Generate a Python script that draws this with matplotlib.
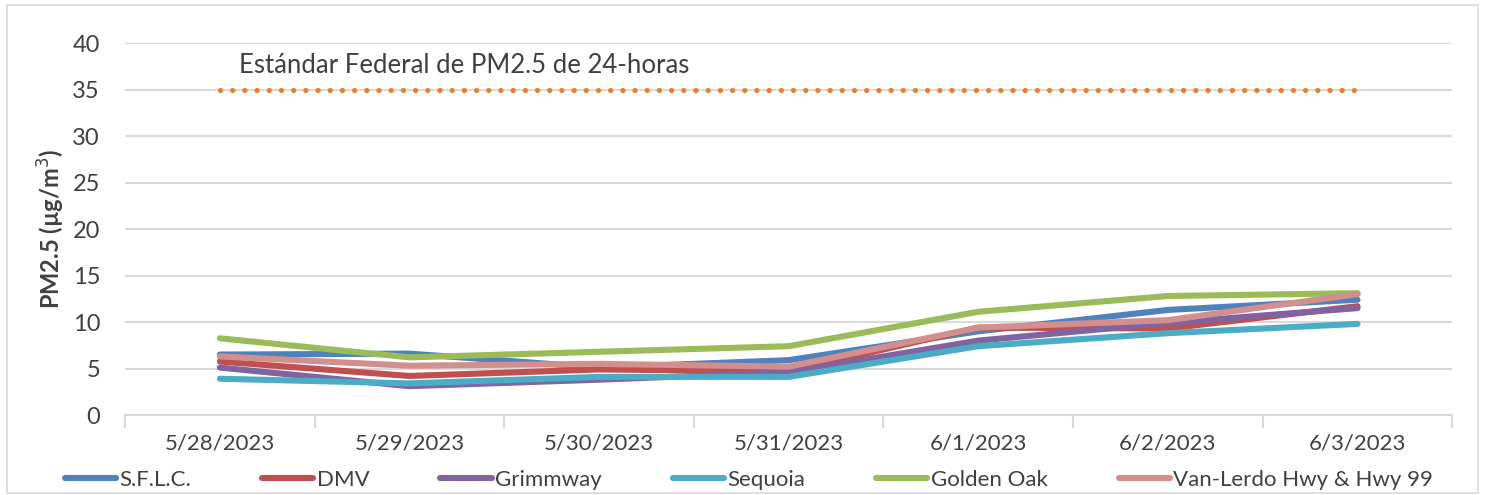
import matplotlib.pyplot as plt
import numpy as np
from matplotlib.patches import Rectangle

plt.rcParams['font.family'] = ['Lato', 'DejaVu Sans']

dates = ['5/28/2023', '5/29/2023', '5/30/2023', '5/31/2023', '6/1/2023', '6/2/2023', '6/3/2023']
sflc = [6.5, 6.6, 5.1, 5.9, 9.0, 11.3, 12.4]
dmv = [5.75, 4.2, 4.9, 4.7, 9.4, 9.3, 11.7]
grimmway = [5.1, 3.1, 3.8, 4.6, 8.0, 9.9, 11.5]
sequoia = [3.9, 3.4, 4.1, 4.1, 7.4, 8.8, 9.8]
golden_oak = [8.25, 6.2, 6.8, 7.4, 11.1, 12.8, 13.1]
van_lerdo = [6.3, 5.3, 5.5, 5.2, 9.4, 10.2, 13.0]
standard = [35] * 7

series = [
    ('S.F.L.C.', sflc, '#4F81BD'),
    ('DMV', dmv, '#C0504D'),
    ('Grimmway', grimmway, '#8064A2'),
    ('Sequoia', sequoia, '#4BACC6'),
    ('Golden Oak', golden_oak, '#9BBB59'),
    ('Van-Lerdo Hwy & Hwy 99', van_lerdo, '#D38F8D'),
]

fig = plt.figure(figsize=(14.85, 4.95), dpi=100)
ax = fig.add_axes([0.0842, 0.1616, 0.8938, 0.7514])

# outer chart border
fig.patches.append(Rectangle((0.005, 0.005), 0.99, 0.985, transform=fig.transFigure,
                             fill=False, edgecolor='#D9D9D9', lw=1.2))

x = np.arange(len(dates))
ax.plot(x, standard, color='#ED7D31', lw=3.8, linestyle=(0, (0.01, 2.3)),
        dash_capstyle='round')
for name, vals, col in series:
    ax.plot(x, vals, color=col, lw=4.4, label=name, solid_capstyle='round',
            solid_joinstyle='round')

ax.text(0.1, 36.2, 'Estándar Federal de PM2.5 de 24-horas', fontsize=18.5,
        color='#404040', va='bottom', ha='left')

ax.set_ylim(0, 40)
ax.set_xlim(-0.5, 6.5)
ax.set_yticks(np.arange(0, 41, 5))
ax.yaxis.grid(True, color='#D9D9D9', lw=1.5)
ax.set_axisbelow(True)
ax.set_xticks(x)
ax.set_xticklabels(dates)
ax.set_xticks(np.arange(-0.5, 7, 1), minor=True)
ax.tick_params(axis='x', which='major', length=0, pad=13, labelsize=16, labelcolor='#404040')
ax.tick_params(axis='x', which='minor', length=9, color='#D9D9D9', width=1.5)
ax.tick_params(axis='y', length=0, labelsize=17, labelcolor='#404040', pad=18)
for s in ['top', 'right', 'left']:
    ax.spines[s].set_visible(False)
ax.spines['bottom'].set_color('#D9D9D9')
ax.spines['bottom'].set_linewidth(1.5)

ax.set_ylabel('PM2.5 (µg/m$^3$)', fontsize=17, fontweight='bold', color='#404040',
              labelpad=4)

ax.legend(loc='center', bbox_to_anchor=(0.47, -0.175), ncol=6, frameon=False,
          fontsize=16, handlelength=2.3, columnspacing=3.2, handletextpad=0.15,
          labelcolor='#404040', borderaxespad=0)

fig.savefig('out.png', dpi=100)
